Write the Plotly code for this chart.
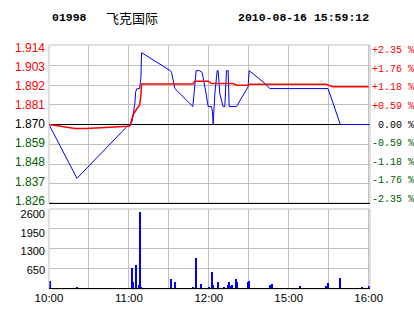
import plotly.graph_objects as go

# ---------------- data ----------------
stock_code = "01998"
stock_name = "飞克国际"
timestamp = "2010-08-16 15:59:12"
prev_close = 1.870

# minutes since 10:00 on the trading-time axis (lunch break removed)
price_minutes = [0, 21, 60, 61, 62.5, 64, 64.5, 65, 66, 68, 69, 69.5, 91, 92, 94.5,
                 108, 110.5, 113, 115, 118, 119.5, 122, 122.75, 123.25, 123.75, 124.5,
                 126.25, 127, 128.25, 130.75, 132, 132.75, 133.25, 134.5, 135.25,
                 140.75, 149.5, 150.25, 162, 165.75, 209.5, 218.75, 240]
price_values = [1.870, 1.840, 1.870, 1.870, 1.872, 1.878, 1.882, 1.888, 1.890, 1.890, 1.896, 1.910, 1.900, 1.899, 1.890,
                1.880, 1.900, 1.900, 1.899, 1.887, 1.880, 1.880, 1.877, 1.870, 1.877, 1.887,
                1.900, 1.900, 1.887, 1.880, 1.880, 1.893, 1.900, 1.900, 1.880,
                1.880, 1.891, 1.900, 1.893, 1.890, 1.890, 1.870, 1.870]

avg_minutes = [0, 13, 19.5, 28, 46, 59.5, 61, 63, 66, 68, 69, 69.5, 108, 109.5, 119.5,
               122, 138, 141, 149.5, 150.75, 208, 213, 240]
avg_values = [1.8700, 1.8685, 1.8678, 1.8678, 1.8687, 1.8690, 1.8695, 1.8752, 1.8789, 1.8807, 1.8863, 1.8925,
              1.8925, 1.8941, 1.8941, 1.8928, 1.8928, 1.8919, 1.8919, 1.8924, 1.8924, 1.8910, 1.8910]

vol_minutes = [0.75, 21, 62.5, 63.25, 65.5, 67.75, 68.5, 69.25, 91.75, 94.75, 108.25, 110.5,
               114.25, 120.25, 122.5, 123.25, 127, 131.5, 134.5, 135.25, 136, 137.5, 140.5,
               141.25, 149.5, 150.25, 166, 167.5, 188.5, 208, 209.5, 218.5, 235, 240.5]
vol_values = [250, 75, 670, 240, 770, 140, 2510, 75, 310, 240, 75, 1000,
              175, 75, 540, 140, 240, 75, 140, 240, 110, 140, 340,
              240, 240, 275, 140, 175, 110, 110, 210, 370, 75, 110]

x_range = [0, 241]
x_tick_minutes = [0, 30, 60, 90, 120, 150, 180, 210, 240]
x_tick_labels = ["10:00", "", "11:00", "", "12:00", "", "15:00", "", "16:00"]

price_ticks = [1.826, 1.837, 1.848, 1.859, 1.870, 1.881, 1.892, 1.903, 1.914]
price_tick_labels = ["1.826", "1.837", "1.848", "1.859", "1.870", "1.881", "1.892", "1.903", "1.914"]
pct_ticks = [-2.35, -1.76, -1.18, -0.59, 0.0, 0.59, 1.18, 1.76, 2.35]
pct_tick_labels = ["-2.35 %", "-1.76 %", "-1.18 %", "-0.59 %", "\u00a00.00 %",
                   "+0.59 %", "+1.18 %", "+1.76 %", "+2.35 %"]
vol_ticks = [650, 1300, 1950, 2600]
vol_tick_labels = ["650", "1300", "1950", "2600"]

# ---------------- style ----------------
RED = "#ff0000"
GREEN = "#006000"
BLACK = "#000000"
BLUE = "#0000ff"
GRID = "#c0c0c0"


def colored(labels, values, ref):
    out = []
    for lab, v in zip(labels, values):
        c = RED if v > ref + 1e-9 else (GREEN if v < ref - 1e-9 else BLACK)
        out.append(f'<span style="color:{c}">{lab}</span>')
    return out


pct_values = [(p - prev_close) / prev_close * 100 for p in price_values]

fig = go.Figure()
# previous close reference line (drawn under the price lines)
fig.add_trace(go.Scatter(x=x_range, y=[prev_close, prev_close], mode="lines",
                         line=dict(color=BLACK, width=1), xaxis="x", yaxis="y", hoverinfo="skip"))
fig.add_trace(go.Scatter(x=price_minutes, y=price_values, mode="lines",
                         line=dict(color=BLUE, width=1), xaxis="x", yaxis="y", hoverinfo="skip"))
fig.add_trace(go.Scatter(x=avg_minutes, y=avg_values, mode="lines",
                         line=dict(color=RED, width=1.5), xaxis="x", yaxis="y", hoverinfo="skip"))
# label-only axes (transparent carriers)
fig.add_trace(go.Scatter(x=price_minutes, y=price_values, mode="lines",
                         line=dict(color="rgba(0,0,0,0)", width=0), xaxis="x", yaxis="y4", hoverinfo="skip"))
fig.add_trace(go.Scatter(x=price_minutes, y=pct_values, mode="lines",
                         line=dict(color="rgba(0,0,0,0)", width=0), xaxis="x", yaxis="y3", hoverinfo="skip"))
fig.add_trace(go.Bar(x=vol_minutes, y=vol_values, width=0.75, marker=dict(color=BLUE, line=dict(width=0)),
                     xaxis="x2", yaxis="y2", hoverinfo="skip"))
fig.add_trace(go.Scatter(x=vol_minutes, y=vol_values, mode="lines",
                         line=dict(color="rgba(0,0,0,0)", width=0), xaxis="x2", yaxis="y5", hoverinfo="skip"))

lab_font = dict(family="Liberation Sans", size=12, color=BLACK)
half_left = 0.044 * 79 / 76.5
half_right = 2.353 * 79 / 74.25
half_px = 0.5 * 0.088 / 158  # half a pixel in price units, for crisp 1px lines

fig.update_layout(
    width=414, height=314,
    margin=dict(l=49, r=44, t=45, b=25, autoexpand=False),
    paper_bgcolor="white", plot_bgcolor="white",
    showlegend=False, hovermode=False, bargap=0,
    xaxis=dict(domain=[0, 1], anchor="y", range=x_range, tickmode="array", automargin=False,
               tickvals=x_tick_minutes, showticklabels=False, showgrid=True,
               gridcolor=GRID, gridwidth=1, zeroline=False, showline=False, ticks=""),
    xaxis2=dict(domain=[0, 1], anchor="y2", matches="x", range=x_range, tickmode="array",
                automargin=False,
                tickvals=x_tick_minutes, ticktext=x_tick_labels, showgrid=True,
                gridcolor=GRID, gridwidth=1, zeroline=False, showline=False, ticks="",
                tickfont=dict(family="Liberation Sans", size=11.5, color=BLACK)),
    yaxis=dict(domain=[0.35246, 1], anchor="x", range=[1.826 + half_px, 1.914 + half_px],
               tickmode="array", automargin=False,
               tickvals=price_ticks, showticklabels=False, showgrid=True, gridcolor=GRID,
               gridwidth=1, zeroline=False, showline=False, ticks=""),
    yaxis4=dict(overlaying="y", side="left", anchor="x", automargin=False,
                range=[prev_close - half_left, prev_close + half_left], tickmode="array",
                tickvals=price_ticks, ticktext=colored(price_tick_labels, price_ticks, prev_close),
                showgrid=False, zeroline=False, showline=False, ticks="",
                tickfont=lab_font, ticklabelstandoff=3),
    yaxis3=dict(overlaying="y", side="right", anchor="x", automargin=False,
                range=[-half_right, half_right], tickmode="array",
                tickvals=pct_ticks, ticktext=colored(pct_tick_labels, pct_ticks, 0.0),
                showgrid=False, zeroline=False, showline=False, ticks="",
                tickfont=dict(family="Liberation Mono", size=10, color=BLACK), ticklabelstandoff=1),
    yaxis2=dict(domain=[0, 0.32787], anchor="x2", range=[0, 2600], tickmode="array",
                automargin=False,
                tickvals=vol_ticks, showticklabels=False, showgrid=True, gridcolor=GRID,
                gridwidth=1, zeroline=False, showline=False, ticks=""),
    yaxis5=dict(overlaying="y2", side="left", anchor="x2", range=[0, 2600 * 80 / 75],
                automargin=False,
                tickmode="array", tickvals=vol_ticks, ticktext=vol_tick_labels,
                showgrid=False, zeroline=False, showline=False, ticks="",
                tickfont=dict(family="Liberation Sans", size=11, color=BLACK), ticklabelstandoff=3),
)

shapes = [
    dict(type="rect", xref="paper", yref="paper", x0=0, x1=1, y0=0.35246, y1=1,
         line=dict(color=GRID, width=1), layer="above"),
    dict(type="rect", xref="paper", yref="paper", x0=0, x1=1, y0=0, y1=0.32787,
         line=dict(color=GRID, width=1), layer="above"),
    dict(type="line", xref="paper", yref="paper", x0=0, x1=1, y0=0.35041, y1=0.35041,
         line=dict(color=BLACK, width=1), layer="above"),
    dict(type="line", xref="paper", yref="paper", x0=0, x1=1, y0=0.00205, y1=0.00205,
         line=dict(color=BLACK, width=1), layer="above"),
]
fig.update_layout(shapes=shapes)

ty = 1 + (45 - 17) / 244
fig.add_annotation(x=(50 - 49) / 321, y=ty, xref="paper", yref="paper", text=f"<b>{stock_code}</b>",
                   showarrow=False, xanchor="left", yanchor="middle",
                   font=dict(family="Liberation Mono", size=11.5, color=BLACK))
fig.add_annotation(x=(104 - 49) / 321, y=ty, xref="paper", yref="paper", text=stock_name,
                   showarrow=False, xanchor="left", yanchor="middle",
                   font=dict(family="Noto Sans CJK SC", size=13, color=BLACK))
fig.add_annotation(x=(371 - 49) / 321, y=ty, xref="paper", yref="paper", text=f"<b>{timestamp}</b>",
                   showarrow=False, xanchor="right", yanchor="middle",
                   font=dict(family="Liberation Mono", size=11.5, color=BLACK))

fig.write_html("out.html")
